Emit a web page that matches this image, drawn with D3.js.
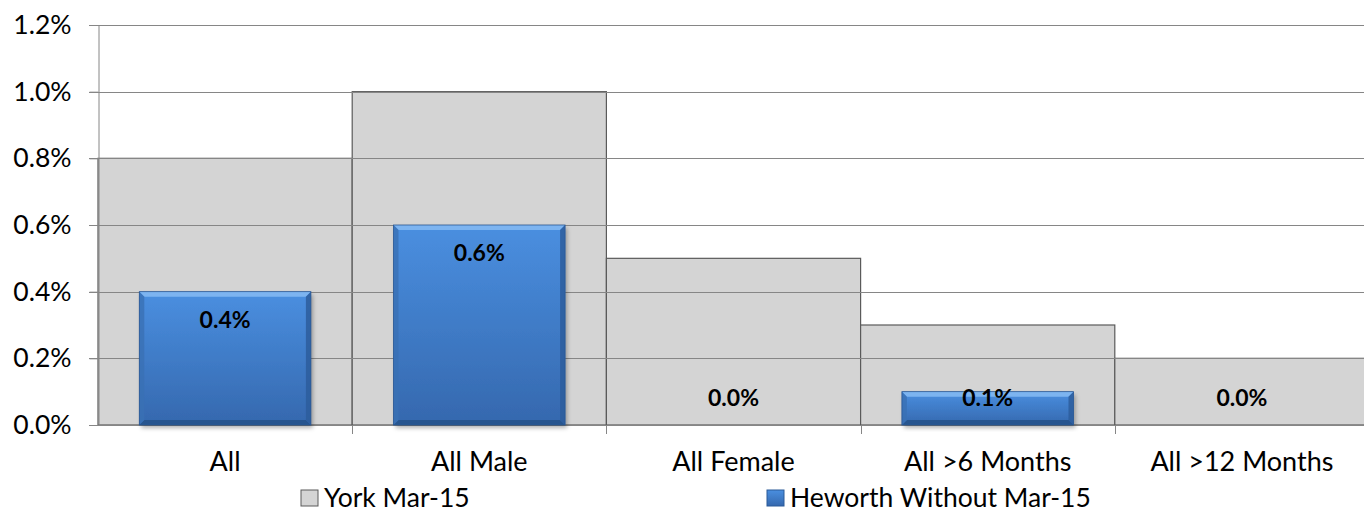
<!DOCTYPE html>
<html><head><meta charset="utf-8">
<script src="https://cdn.jsdelivr.net/npm/d3@7"></script>
<style>body{margin:0;background:#fff;} svg{display:block;font-family:Lato, "Open Sans", sans-serif;}</style>
</head><body><svg id="c" width="1364" height="515"></svg>
<script>
const categories = ["All", "All Male", "All Female", "All >6 Months", "All >12 Months"];
const yorkValues = [0.8, 1.0, 0.5, 0.3, 0.2];
const heworthValues = [0.4, 0.6, 0.0, 0.1, 0.0];
const seriesNames = ["York Mar-15", "Heworth Without Mar-15"];
const yTicks = [0, 0.2, 0.4, 0.6, 0.8, 1.0, 1.2];

const svg = d3.select("#c");
const x = d3.scaleBand().domain(categories).range([98, 98 + 5 * 254.2]).padding(0);
const y = d3.scaleLinear().domain([0, 1.2]).range([425, 25]);
const bw = x.bandwidth();
const blueW = bw * 0.675;

const defs = svg.append("defs");
const g1 = defs.append("linearGradient").attr("id", "blueG").attr("x1", 0).attr("y1", 0).attr("x2", 0).attr("y2", 1);
g1.append("stop").attr("offset", "0%").attr("stop-color", "#4a8fe0");
g1.append("stop").attr("offset", "100%").attr("stop-color", "#3568ae");
const f = defs.append("filter").attr("id", "shadow").attr("x", "-10%").attr("y", "-10%").attr("width", "130%").attr("height", "130%");
f.append("feDropShadow").attr("dx", 2).attr("dy", 3).attr("stdDeviation", 2).attr("flood-color", "#000").attr("flood-opacity", 0.3);

// gray bars
svg.append("g").selectAll("rect").data(categories).join("rect")
  .attr("x", d => x(d)).attr("width", bw)
  .attr("y", (d, i) => y(yorkValues[i])).attr("height", (d, i) => y(0) - y(yorkValues[i]))
  .attr("fill", "#d4d4d4").attr("stroke", "#5a5a5a").attr("stroke-width", 1.2);

// gridlines
svg.append("g").selectAll("line").data(yTicks).join("line")
  .attr("x1", 89).attr("x2", 1364).attr("y1", d => Math.round(y(d)) + 0.5).attr("y2", d => Math.round(y(d)) + 0.5)
  .attr("stroke", "#868686").attr("stroke-width", 1);

// y axis
const yAxis = d3.axisLeft(y).tickValues(yTicks).tickFormat(d => d.toFixed(1) + "%").tickSize(9).tickPadding(18);
const ya = svg.append("g").attr("transform", "translate(98.5,0)").call(yAxis);
ya.select(".domain").attr("stroke", "#868686");
ya.selectAll(".tick line").attr("stroke", "#868686");
ya.selectAll("text").attr("font-size", 26.5).attr("fill", "#000").attr("font-family", "Lato");

// x axis
const xAxis = d3.axisBottom(x).tickSize(0).tickPadding(26);
const xa = svg.append("g").attr("transform", "translate(0,425.5)").call(xAxis);
xa.select(".domain").remove();
xa.selectAll("text").attr("font-size", 27).attr("fill", "#000").attr("font-family", "Lato");
svg.append("g").selectAll("line").data(categories.slice(1)).join("line")
  .attr("x1", d => Math.round(x(d)) + 0.5).attr("x2", d => Math.round(x(d)) + 0.5)
  .attr("y1", 425).attr("y2", 434).attr("stroke", "#868686");

// blue bars
const bars = svg.append("g").selectAll("g").data(categories).join("g")
  .filter((d, i) => heworthValues[i] > 0);
bars.each(function(d) {
  const i = categories.indexOf(d);
  const x0 = x(d) + (bw - blueW) / 2, x1 = x0 + blueW;
  const y0 = y(heworthValues[i]), y1 = y(0);
  const b = Math.min(5, (y1 - y0) / 2);
  const gg = d3.select(this);
  gg.append("rect").attr("x", x0).attr("y", y0).attr("width", blueW).attr("height", y1 - y0)
    .attr("fill", "url(#blueG)").attr("filter", "url(#shadow)");
  gg.append("polygon").attr("points", `${x0},${y0} ${x1},${y0} ${x1-b},${y0+b} ${x0+b},${y0+b}`).attr("fill", "#86bbf3").attr("opacity", 0.85);
  gg.append("polygon").attr("points", `${x0},${y1} ${x1},${y1} ${x1-b},${y1-b} ${x0+b},${y1-b}`).attr("fill", "#27558f");
  gg.append("polygon").attr("points", `${x0},${y0} ${x0+b},${y0+b} ${x0+b},${y1-b} ${x0},${y1}`).attr("fill", "#3a70b4").attr("opacity", 0.8);
  gg.append("polygon").attr("points", `${x1},${y0} ${x1-b},${y0+b} ${x1-b},${y1-b} ${x1},${y1}`).attr("fill", "#2d5d9c").attr("opacity", 0.85);
  gg.append("rect").attr("x", x0).attr("y", y0).attr("width", blueW).attr("height", y1 - y0)
    .attr("fill", "none").attr("stroke", "#2a5793").attr("stroke-width", 0.8);
});

// labels
svg.append("g").selectAll("text").data(categories).join("text")
  .attr("x", d => x(d) + bw / 2)
  .attr("y", (d, i) => Math.min(y(heworthValues[i]) + 28, y(0) - 27))
  .attr("dy", "0.35em").attr("text-anchor", "middle")
  .attr("font-size", 23).attr("font-weight", "bold").attr("fill", "#000")
  .text((d, i) => heworthValues[i].toFixed(1) + "%");

// legend
const legendX = [301, 767];
const lg = svg.append("g").selectAll("g").data(seriesNames).join("g")
  .attr("transform", (d, i) => `translate(${legendX[i]},490)`);
lg.append("rect").attr("width", 17).attr("height", 16)
  .attr("fill", (d, i) => i === 0 ? "#d4d4d4" : "url(#blueG)")
  .attr("stroke", (d, i) => i === 0 ? "#5a5a5a" : "#2b5a98").attr("stroke-width", 1);
lg.append("text").attr("x", 23).attr("y", 8).attr("dy", "0.35em")
  .attr("font-size", 26.5).attr("fill", "#000").text(d => d);
</script></body></html>
